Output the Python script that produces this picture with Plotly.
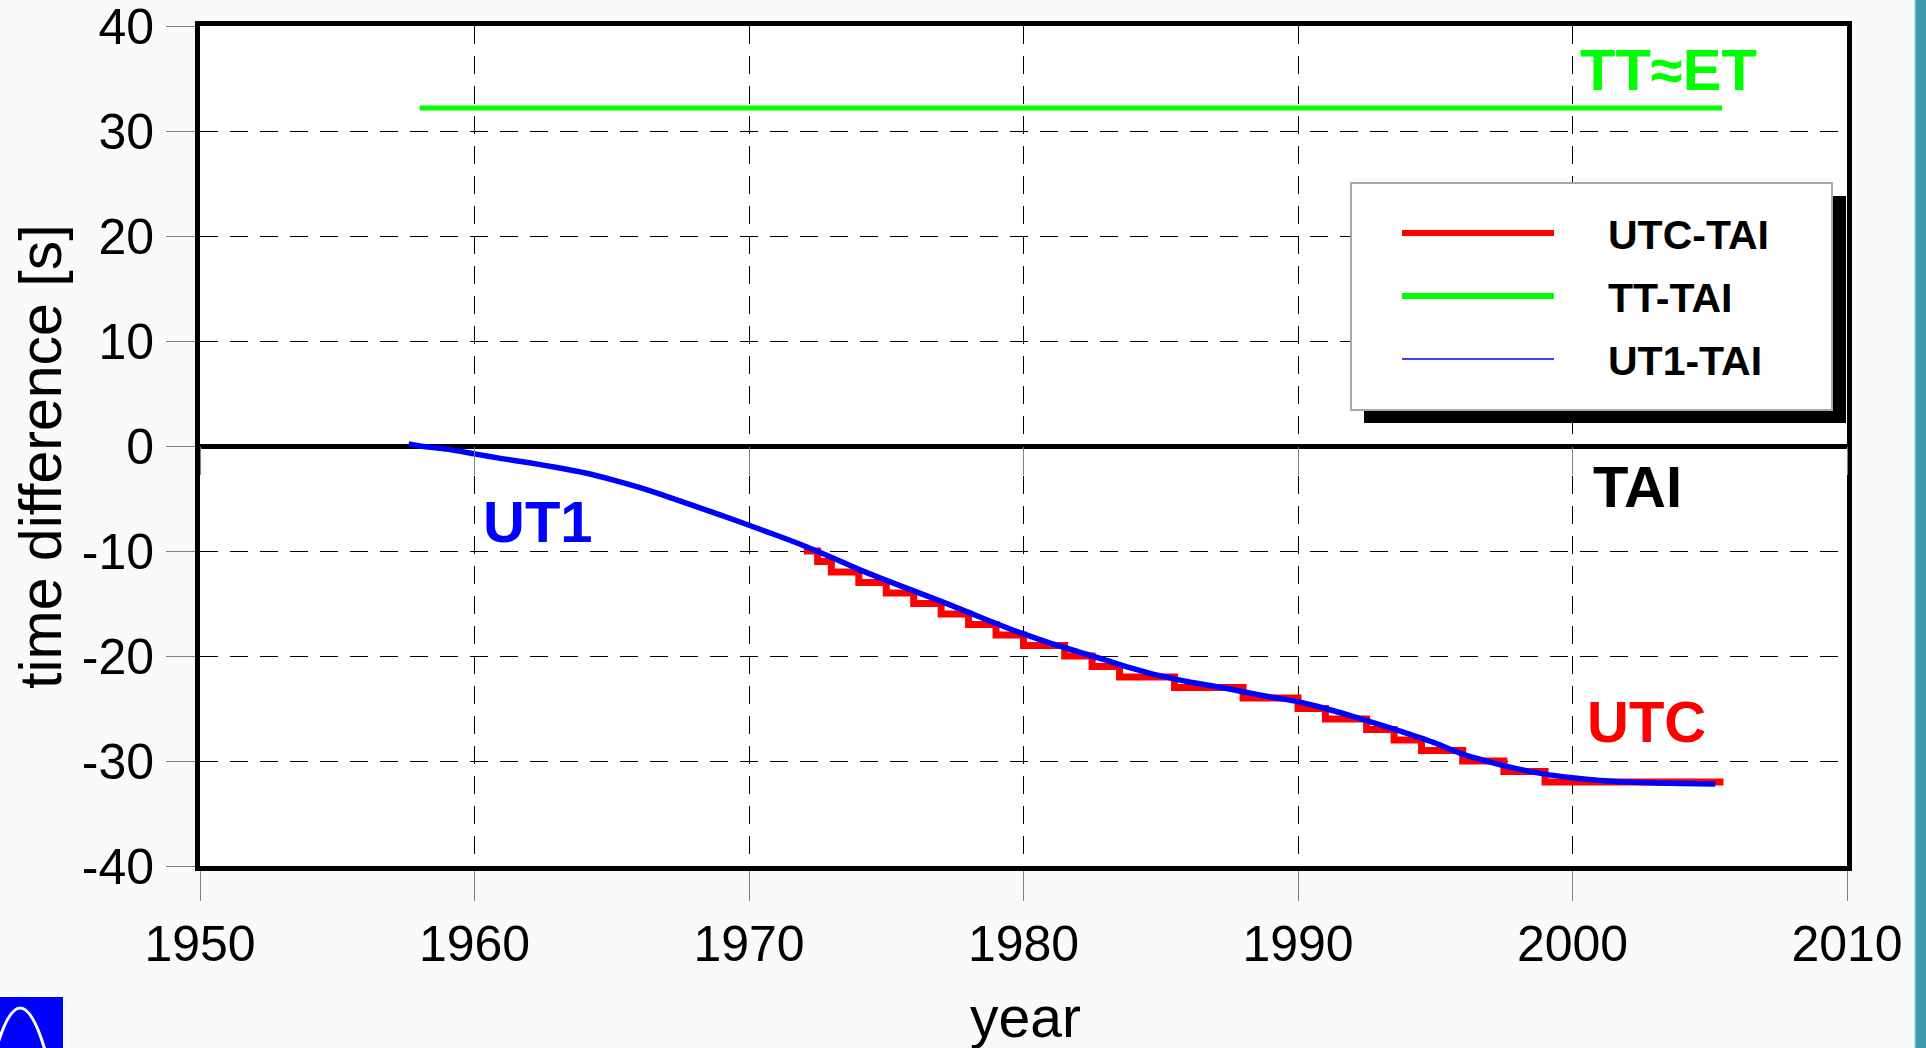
import plotly.graph_objects as go

# ---------------- data ----------------
tt_years = [1958.0, 2005.45]
tt_vals = [32.184, 32.184]

utc_years = [1972.0, 1972.5, 1973.0, 1974.0, 1975.0, 1976.0, 1977.0, 1978.0, 1979.0,
             1980.0, 1981.5, 1982.5, 1983.5, 1985.5, 1988.0, 1990.0, 1991.0, 1992.5,
             1993.5, 1994.5, 1996.0, 1997.5, 1999.0, 2005.5]
utc_vals = [-10, -11, -12, -13, -14, -15, -16, -17, -18,
            -19, -20, -21, -22, -23, -24, -25, -26, -27,
            -28, -29, -30, -31, -32, -32]

ut1_years = [1957.6, 1958, 1959, 1960, 1961, 1962, 1963, 1964, 1965, 1966, 1967, 1968,
             1969, 1970, 1971, 1972, 1973, 1974, 1975, 1976, 1977, 1978, 1979, 1980,
             1981, 1982, 1983, 1984, 1985, 1986, 1987, 1988, 1989, 1990, 1991, 1992,
             1993, 1994, 1995, 1996, 1997, 1998, 1999, 2000, 2001, 2002, 2003, 2004, 2005.2]
ut1_vals = [0.2, 0.0, -0.3, -0.75, -1.2, -1.6, -2.05, -2.55, -3.2, -3.95, -4.8, -5.7,
            -6.6, -7.55, -8.5, -9.5, -10.6, -11.75, -12.8, -13.8, -14.8, -15.85, -16.9, -17.9,
            -18.8, -19.6, -20.4, -21.2, -21.9, -22.45, -22.9, -23.4, -23.9, -24.35, -25.0, -25.75,
            -26.55, -27.4, -28.3, -29.35, -30.1, -30.75, -31.25, -31.6, -31.85, -32.0, -32.1, -32.15, -32.2]

x_ticks = [1950, 1960, 1970, 1980, 1990, 2000, 2010]
y_ticks = [-40, -30, -20, -10, 0, 10, 20, 30, 40]

legend_labels = ["UTC-TAI", "TT-TAI", "UT1-TAI"]
legend_colors = ["#ff0000", "#00ff00", "#0000ff"]
legend_widths = [6, 6, 1.5]

# ---------------- layout geometry (pixels) ----------------
W, H = 1926, 1048
L, R, T, B = 200, 1847, 26, 866


def px(xp):
    return (xp - L) / (R - L)


def py(yp):
    return (B - yp) / (B - T)


FONT = "Liberation Sans, Arial, sans-serif"

fig = go.Figure()
fig.add_trace(go.Scatter(x=tt_years, y=tt_vals, mode="lines", name="TT-TAI",
                         line=dict(color="#00ff00", width=5), showlegend=False))
fig.add_trace(go.Scatter(x=utc_years, y=utc_vals, mode="lines", name="UTC-TAI",
                         line=dict(color="#ff0000", width=7, shape="hv"), showlegend=False))
fig.add_trace(go.Scatter(x=ut1_years, y=ut1_vals, mode="lines", name="UT1-TAI",
                         line=dict(color="#0000ff", width=5.5, shape="spline", smoothing=0.6),
                         showlegend=False))
# helper axis for ticks along the zero line
fig.add_trace(go.Scatter(x=[2010], y=[None], xaxis="x2", yaxis="y", mode="lines",
                         showlegend=False, hoverinfo="skip"))

shapes = []
# legend shadow + box
shapes.append(dict(type="rect", xref="paper", yref="paper",
                   x0=px(1364), x1=px(1846), y0=py(423), y1=py(196),
                   fillcolor="black", line=dict(width=0), layer="above"))
shapes.append(dict(type="rect", xref="paper", yref="paper",
                   x0=px(1351), x1=px(1832), y0=py(410), y1=py(183),
                   fillcolor="white", line=dict(color="#a8a8a8", width=2), layer="above"))
annotations = []
for i, (lab, col, lw) in enumerate(zip(legend_labels, legend_colors, legend_widths)):
    yy = 233 + i * 63
    shapes.append(dict(type="line", xref="paper", yref="paper",
                       x0=px(1402), x1=px(1554), y0=py(yy), y1=py(yy),
                       line=dict(color=col, width=lw), layer="above"))
    annotations.append(dict(xref="paper", yref="paper", x=px(1606), y=py(yy + 2),
                            text=lab, showarrow=False, xanchor="left", yanchor="middle",
                            font=dict(family=FONT, size=41, color="black", weight="bold")))

# right teal strip
shapes.append(dict(type="rect", xref="paper", yref="paper",
                   x0=px(1915), x1=px(1930), y0=py(1048), y1=py(0),
                   fillcolor="#3d9aae", line=dict(width=0), layer="below"))
shapes.append(dict(type="line", xref="paper", yref="paper",
                   x0=px(1915), x1=px(1915), y0=py(1048), y1=py(0),
                   line=dict(color="#8fd3e0", width=1.5), layer="below"))
# bottom-left logo
shapes.append(dict(type="rect", xref="paper", yref="paper",
                   x0=px(-2), x1=px(63), y0=py(1050), y1=py(997),
                   fillcolor="#0000ff", line=dict(width=0), layer="below"))
shapes.append(dict(type="path", xref="paper", yref="paper",
                   path=f"M {px(-4)},{py(1050)} Q {px(20)},{py(966)} {px(45)},{py(1050)}",
                   line=dict(color="white", width=3), layer="below"))

# axis titles
annotations.append(dict(xref="paper", yref="paper", x=px(41), y=py(457),
                        text="time difference [s]", textangle=-90, showarrow=False,
                        xanchor="center", yanchor="middle",
                        font=dict(family=FONT, size=59, color="black")))
annotations.append(dict(xref="paper", yref="paper", x=px(1025), y=py(1017),
                        text="year", showarrow=False,
                        xanchor="center", yanchor="middle",
                        font=dict(family=FONT, size=57, color="black")))

# inline labels (data coordinates)
annotations += [
    dict(x=2003.48, y=35.9, text="TT≈ET", showarrow=False, xanchor="center", yanchor="middle",
         font=dict(family=FONT, size=58, color="#00ff00", weight="bold")),
    dict(x=2002.35, y=-3.9, text="TAI", showarrow=False, xanchor="center", yanchor="middle",
         font=dict(family=FONT, size=58, color="black", weight="bold")),
    dict(x=2002.68, y=-26.2, text="UTC", showarrow=False, xanchor="center", yanchor="middle",
         font=dict(family=FONT, size=58, color="#ff0000", weight="bold")),
    dict(x=1962.3, y=-7.2, text="UT1", showarrow=False, xanchor="center", yanchor="middle",
         font=dict(family=FONT, size=58, color="#0000ff", weight="bold")),
]

fig.update_layout(
    width=W, height=H,
    margin=dict(l=L, r=W - R, t=T, b=H - B, pad=0, autoexpand=False),
    paper_bgcolor="#f9fafb", plot_bgcolor="white",
    showlegend=False,
    font=dict(family=FONT, color="black"),
    xaxis=dict(range=[1950, 2010], tickvals=x_ticks, ticktext=[str(v) for v in x_ticks],
               showgrid=True, gridcolor="black", gridwidth=1, griddash="18px,12px",
               zeroline=False, showline=True, linecolor="black", linewidth=5, mirror=True,
               ticks="outside", ticklen=30, tickwidth=1, tickcolor="#808080",
               tickfont=dict(size=50, family=FONT, color="black"), ticklabelstandoff=0,
               ticklabeloverflow="allow", automargin=False),
    xaxis2=dict(range=[1950, 2010], overlaying="x", anchor="free", position=0.5,
                tickvals=x_ticks, showticklabels=False, showgrid=False, zeroline=False,
                showline=False, ticks="outside", ticklen=28, tickwidth=1, tickcolor="#808080",
                automargin=False),
    yaxis=dict(range=[-40, 40], tickvals=y_ticks, ticktext=[str(v) for v in y_ticks],
               showgrid=True, gridcolor="black", gridwidth=1, griddash="18px,12px",
               zeroline=True, zerolinecolor="black", zerolinewidth=5,
               showline=True, linecolor="black", linewidth=5, mirror=True,
               ticks="outside", ticklen=29, tickwidth=1, tickcolor="#808080",
               tickfont=dict(size=50, family=FONT, color="black"), ticklabelstandoff=2,
               ticklabeloverflow="allow", automargin=False),
    shapes=shapes,
    annotations=annotations,
)

fig.write_html("out.html")
